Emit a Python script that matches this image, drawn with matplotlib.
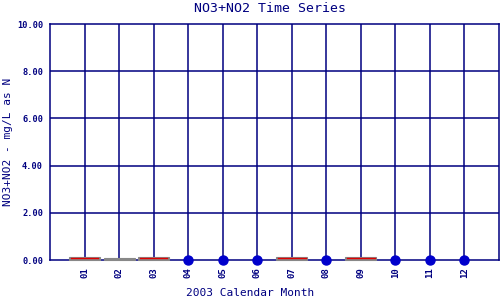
import matplotlib
matplotlib.use("Agg")
import matplotlib.pyplot as plt
from matplotlib.patches import Rectangle

months = [1, 2, 3, 4, 5, 6, 7, 8, 9, 10, 11, 12]
month_labels = ["01", "02", "03", "04", "05", "06", "07", "08", "09", "10", "11", "12"]
box_months = [1, 2, 3, 7, 9]
box_low = [0.0, 0.0, 0.0, 0.0, 0.0]
box_high = [0.14, 0.10, 0.14, 0.14, 0.14]
box_median = [0.07, None, 0.07, 0.07, 0.07]
dot_months = [4, 5, 6, 8, 10, 11, 12]
dot_values = [0.0, 0.0, 0.0, 0.0, 0.0, 0.0, 0.0]
yticks = [0, 2, 4, 6, 8, 10]

navy = "#000080"
font = "DejaVu Sans Mono"

fig = plt.figure(figsize=(5, 3), dpi=100)
ax = fig.add_axes([0.1, 0.1333, 0.898, 0.7867])
ax.set_xlim(0, 13)
ax.set_ylim(0, 10)

for m in months:
    ax.axvline(m, color=navy, lw=1.1, zorder=1)
for y in yticks[1:-1]:
    ax.axhline(y, color=navy, lw=1.1, zorder=1)

for m, lo, hi, med in zip(box_months, box_low, box_high, box_median):
    ax.add_patch(Rectangle((m - 0.45, lo), 0.9, hi - lo, facecolor="#888888",
                           edgecolor="#888888", lw=0.8, zorder=3, clip_on=False))
    if med is not None:
        ax.plot([m - 0.4, m + 0.4], [med, med], color="#e00000", lw=1.0, zorder=4,
                clip_on=False)

ax.plot(dot_months, dot_values, "o", color="#0000cc", markersize=6.5, zorder=5,
        clip_on=False)

for s in ax.spines.values():
    s.set_color(navy)
    s.set_linewidth(1.1)
    s.set_zorder(2)

ax.set_xticks(months)
ax.set_xticklabels(month_labels, rotation=90, fontsize=6.5, family=font,
                   color=navy, fontweight="bold")
ax.set_yticks(yticks)
ax.set_yticklabels([f"{v:.2f}" for v in yticks], fontsize=6.2, family=font,
                   color=navy, fontweight="bold")
ax.tick_params(length=0, pad=5)

fig.text(0.54, 0.972, "NO3+NO2 Time Series", fontsize=9.5, family=font, color=navy,
         ha="center", va="center")
fig.text(0.5, 0.023, "2003 Calendar Month", fontsize=8, family=font, color=navy,
         ha="center", va="center")
fig.text(0.016, 0.527, "NO3+NO2 - mg/L as N", rotation=90, fontsize=8, family=font,
         color=navy, ha="center", va="center")

fig.savefig("out.png", dpi=100)
